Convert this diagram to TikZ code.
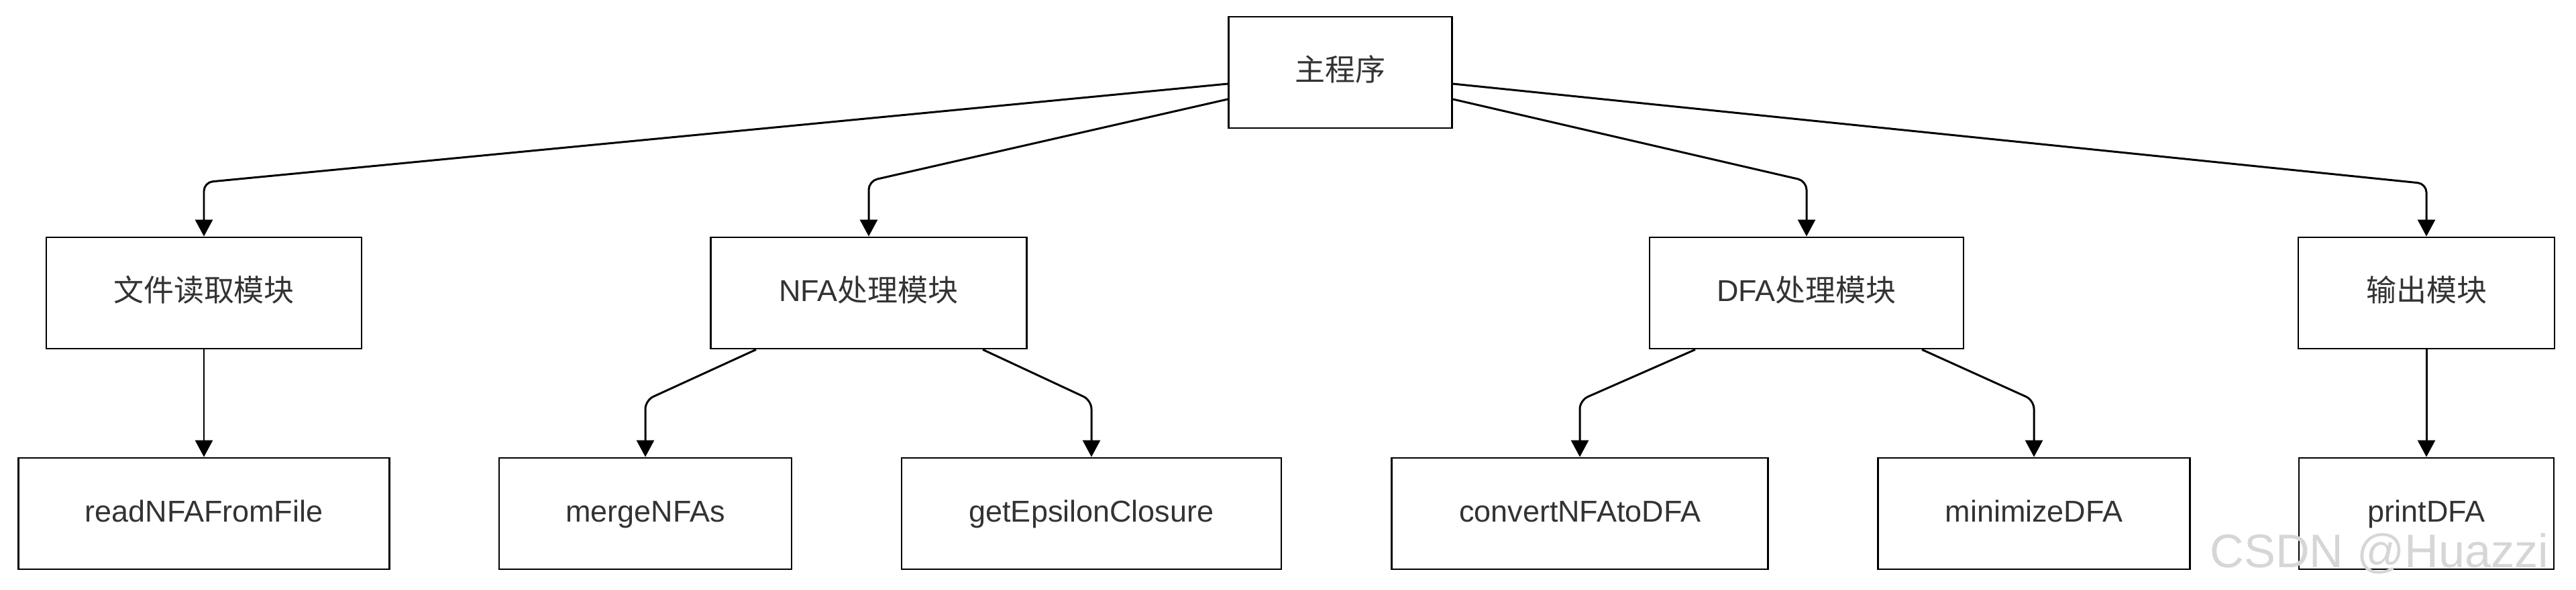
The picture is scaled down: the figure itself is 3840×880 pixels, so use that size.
\documentclass[tikz,border=0pt]{standalone}
\usepackage{fontspec}
\setmainfont{Liberation Sans}
\newfontfamily\cjk{Noto Sans CJK SC}
\usetikzlibrary{arrows.meta}
\begin{document}
\begin{tikzpicture}[x=.1mm,y=-.1mm,
	box/.style={draw,line width=.8pt,minimum height=16.6mm,inner sep=0pt,text height=9.5pt,text depth=2.5pt,text=black!80,font=\fontsize{12.8}{15}\selectfont},
	conn/.style={line width=.85pt,rounded corners=1.3mm,-{Triangle[length=2.5mm,width=2.6mm]}}]
	\useasboundingbox(0,0)rectangle(3840,880);
	\node[box,minimum width=33.3mm](main)at(1998,108){\cjk 主程序};
	% modules
	\node[box,minimum width=47mm](file)at(304,437){\cjk 文件读取模块};
	\node[box,minimum width=47.1mm](nfa)at(1295,437){NFA{\cjk 处理模块}};
	\node[box,minimum width=46.8mm](dfa)at(2693,437){DFA{\cjk 处理模块}};
	\node[box,minimum width=38.2mm](out)at(3617,437){\cjk 输出模块};
	% functions
	\node[box,minimum width=55.3mm](read)at(304,766){readNFAFromFile};
	\node[box,minimum width=43.6mm](merge)at(962,766){mergeNFAs};
	\node[box,minimum width=56.6mm](eps)at(1627,766){getEpsilonClosure};
	\node[box,minimum width=56.1mm](conv)at(2355,766){convertNFAtoDFA};
	\node[box,minimum width=46.5mm](mini)at(3032,766){minimizeDFA};
	\node[box,minimum width=38mm](print)at(3617,766){printDFA};
	\draw[conn]([yshift=-1.7mm]main.west)--(file.north|-0,272)--(file.north);
	\draw[conn]([yshift=-4mm]main.west)--(nfa.north|-0,270)--(nfa.north);
	\draw[conn]([yshift=-4mm]main.east)--(dfa.north|-0,270)--(dfa.north);
	\draw[conn]([yshift=-1.7mm]main.east)--(out.north|-0,274)--(out.north);
	\draw[conn](file)--(read);
	\draw[conn]([xshift=-16.8mm]nfa.south)--(merge.north|-0,597)--(merge.north);
	\draw[conn]([xshift=17mm]nfa.south)--(eps.north|-0,597)--(eps.north);
	\draw[conn]([xshift=-16.6mm]dfa.south)--(conv.north|-0,597)--(conv.north);
	\draw[conn]([xshift=17.2mm]dfa.south)--(mini.north|-0,597)--(mini.north);
	\draw[conn](out)--(print);
	\node[text=black!16,font=\fontsize{20}{24}\selectfont,anchor=base east,inner sep=0pt](mark)at(3800,846){CSDN @Huazzi};
\end{tikzpicture}
\end{document}
